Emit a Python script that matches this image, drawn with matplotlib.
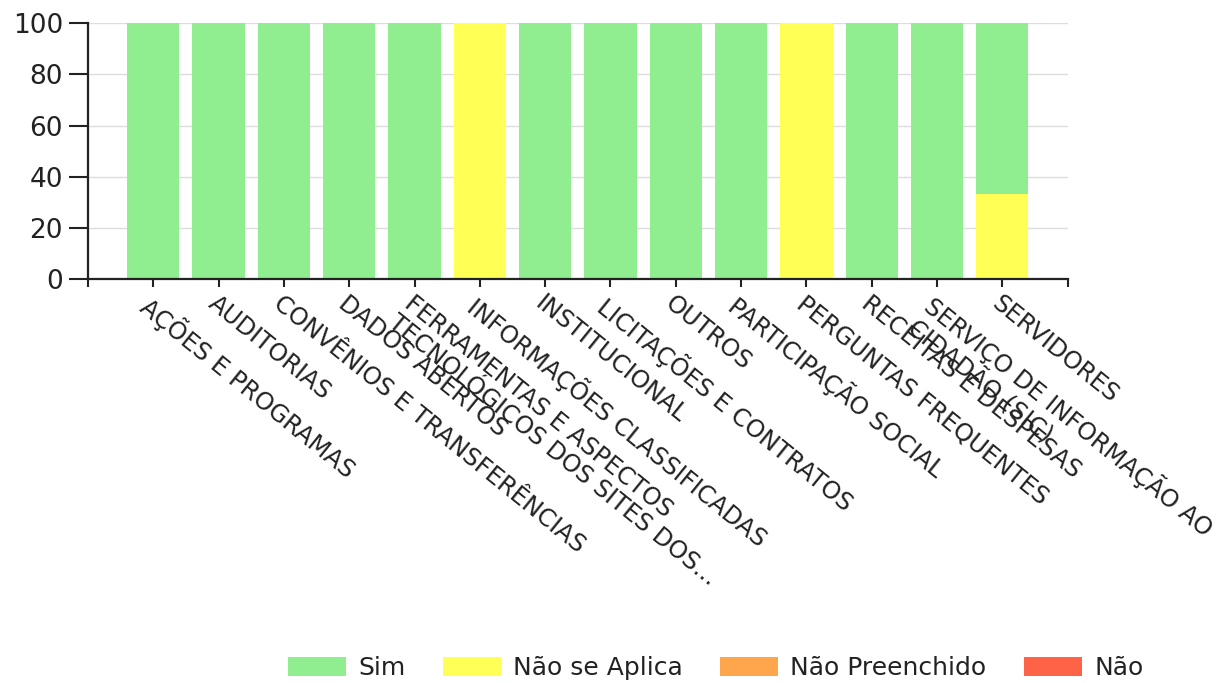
import numpy as np
import matplotlib.pyplot as plt

categories = [
    "AÇÕES E PROGRAMAS",
    "AUDITORIAS",
    "CONVÊNIOS E TRANSFERÊNCIAS",
    "DADOS ABERTOS",
    "FERRAMENTAS E ASPECTOS\nTECNOLÓGICOS DOS SITES DOS...",
    "INFORMAÇÕES CLASSIFICADAS",
    "INSTITUCIONAL",
    "LICITAÇÕES E CONTRATOS",
    "OUTROS",
    "PARTICIPAÇÃO SOCIAL",
    "PERGUNTAS FREQUENTES",
    "RECEITAS E DESPESAS",
    "SERVIÇO DE INFORMAÇÃO AO\nCIDADÃO (SIC)",
    "SERVIDORES",
]
sim = [100, 100, 100, 100, 100, 0, 100, 100, 100, 100, 0, 100, 100, 66.7]
nao_se_aplica = [0, 0, 0, 0, 0, 100, 0, 0, 0, 0, 100, 0, 0, 33.3]
nao_preenchido = [0] * 14
nao = [0] * 14

series = [("Sim", sim, "#90ee90"),
          ("Não se Aplica", nao_se_aplica, "#ffff55"),
          ("Não Preenchido", nao_preenchido, "#ffa64d"),
          ("Não", nao, "#ff6347")]

fig = plt.figure(figsize=(12.3, 6.83), dpi=100)
ax = fig.add_axes([0.0715, 0.5915, 0.7965, 0.3745])

x = np.arange(len(categories))
bottom = np.zeros(len(categories))
handles = {}
# stack from the last series upwards so "Sim" sits on top
for name, vals, col in reversed(series):
    vals = np.array(vals, dtype=float)
    handles[name] = ax.bar(x, vals, 0.8, bottom=bottom, color=col, zorder=2, label=name)
    bottom += vals

ax.set_xlim(-1, len(categories))
ax.set_ylim(0, 100)
ax.set_yticks([0, 20, 40, 60, 80, 100])
ax.yaxis.grid(True, color="#dddddd", linewidth=1, zorder=0)
ax.set_axisbelow(True)

for s in ["top", "right"]:
    ax.spines[s].set_visible(False)
for s in ["left", "bottom"]:
    ax.spines[s].set_linewidth(1.6)
    ax.spines[s].set_color("#222222")

ax.set_xticks(np.arange(-1, len(categories) + 1))
ax.set_xticklabels([""] + categories + [""], rotation=-39, ha="left", va="top",
                   rotation_mode="anchor", fontsize=17.5, color="#222222", linespacing=1.0)
ax.tick_params(axis="x", length=6, width=1.5, pad=3, color="#222222")
ax.tick_params(axis="y", length=14, width=1.5, pad=4, labelsize=19, colors="#222222")

fig.legend([handles[n] for n, _, _ in series], [n for n, _, _ in series],
           loc="center", bbox_to_anchor=(0.582, 0.022), ncol=4, frameon=False,
           fontsize=18, handlelength=2.3, handleheight=0.8, handletextpad=0.5,
           columnspacing=1.5, labelcolor="#222222")

fig.savefig("out.png", dpi=100)
